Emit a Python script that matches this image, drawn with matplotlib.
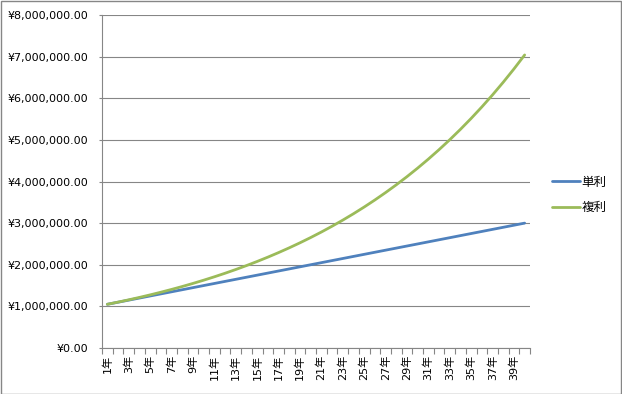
import matplotlib
matplotlib.use("Agg")
import matplotlib.pyplot as plt
from matplotlib.ticker import FuncFormatter, FixedLocator
from matplotlib.patches import Rectangle

plt.rcParams['font.family'] = ['DejaVu Sans', 'Noto Sans CJK JP']

years = [f"{i}年" for i in range(1, 41)]
simple_interest = [1050000, 1100000, 1150000, 1200000, 1250000, 1300000, 1350000, 1400000,
                   1450000, 1500000, 1550000, 1600000, 1650000, 1700000, 1750000, 1800000,
                   1850000, 1900000, 1950000, 2000000, 2050000, 2100000, 2150000, 2200000,
                   2250000, 2300000, 2350000, 2400000, 2450000, 2500000, 2550000, 2600000,
                   2650000, 2700000, 2750000, 2800000, 2850000, 2900000, 2950000, 3000000]
compound_interest = [1050000, 1102500, 1157625, 1215506, 1276282, 1340096, 1407100, 1477455,
                     1551328, 1628895, 1710339, 1795856, 1885649, 1979932, 2078928, 2182875,
                     2292018, 2406619, 2526950, 2653298, 2785963, 2925261, 3071524, 3225100,
                     3386355, 3555673, 3733456, 3920129, 4116136, 4321942, 4538039, 4764941,
                     5003189, 5253348, 5516015, 5791816, 6081407, 6385477, 6704751, 7039989]
series_names = ["単利", "複利"]

fig = plt.figure(figsize=(6.22, 3.94), dpi=100)
ax = fig.add_axes([102/622, 46/394, 428/622, 333/394])

x = list(range(len(years)))
ax.plot(x, simple_interest, color='#4F81BD', lw=2.0, label=series_names[0], solid_capstyle='round')
ax.plot(x, compound_interest, color='#9BBB59', lw=2.0, label=series_names[1], solid_capstyle='round')

ax.set_xlim(-0.5, len(years) - 0.5)
ax.set_ylim(0, 8000000)
ax.yaxis.set_major_locator(FixedLocator([i * 1000000 for i in range(9)]))
ax.yaxis.set_major_formatter(FuncFormatter(lambda v, p: f"¥{v:,.2f}"))
ax.grid(axis='y', color='#868686', lw=0.8)
ax.set_axisbelow(True)

ax.set_xticks(x[::2])
ax.set_xticklabels(years[::2], rotation=90, va='top', ha='center')
ax.set_xticks([i - 0.5 for i in range(len(years) + 1)], minor=True)
ax.tick_params(axis='x', which='major', length=0, pad=5, labelsize=8, colors='black')
ax.tick_params(axis='x', which='minor', length=4, color='#868686', width=0.8, direction='out')
ax.tick_params(axis='y', length=2.5, color='#868686', width=0.8, labelsize=8, pad=7.5)

for s in ['top', 'right']:
    ax.spines[s].set_visible(False)
for s in ['left', 'bottom']:
    ax.spines[s].set_color('#868686')
    ax.spines[s].set_linewidth(0.8)

leg = fig.legend(loc='center left', bbox_to_anchor=(541/622, 1 - 195/394), frameon=False,
                 fontsize=9, handlelength=2.2, handletextpad=0.15, labelspacing=1.0)

fig.patches.append(Rectangle((0.5/622, 0.5/394), 1 - 1.5/622, 1 - 1.5/394, transform=fig.transFigure,
                             fill=False, edgecolor='#868686', lw=1.0))

fig.savefig('out.png', dpi=100)
